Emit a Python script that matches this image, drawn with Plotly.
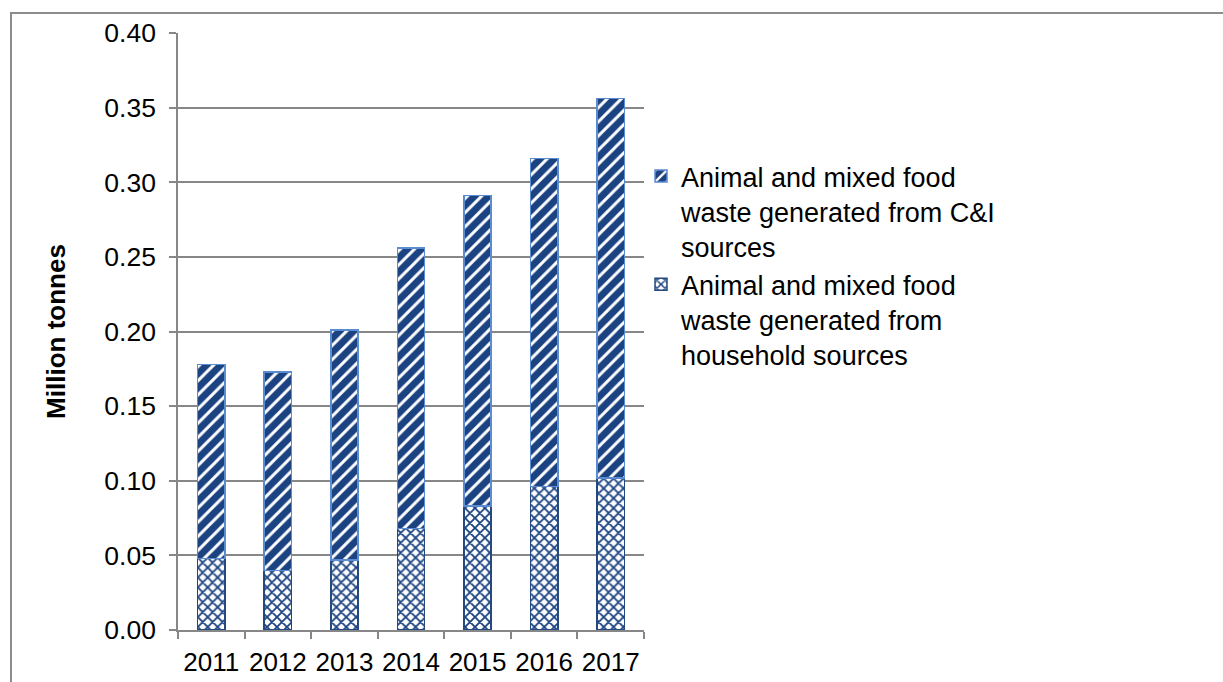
import plotly.graph_objects as go

years = ["2011", "2012", "2013", "2014", "2015", "2016", "2017"]
household = [0.048, 0.040, 0.047, 0.068, 0.083, 0.096, 0.102]
ci = [0.130, 0.133, 0.154, 0.188, 0.208, 0.220, 0.254]
names = [
    "Animal and mixed food<br>waste generated from<br>household sources",
    "Animal and mixed food<br>waste generated from C&I<br>sources",
]
y_ticks = [0.0, 0.05, 0.10, 0.15, 0.20, 0.25, 0.30, 0.35, 0.40]

W, H = 1223, 682
L, R, T, B = 178, 579, 33, 52
pw, ph = W - L - R, H - T - B

NAVY = "#1B4281"
GRID = "#878787"

fig = go.Figure()
fig.add_trace(go.Bar(
    x=years, y=household, name=names[0],
    marker=dict(
        color=NAVY,
        line=dict(color="#24497F", width=1.5),
        pattern=dict(shape="x", fgcolor=NAVY, bgcolor="white", size=7,
                     solidity=0.45, fillmode="replace"),
    ),
))
fig.add_trace(go.Bar(
    x=years, y=ci, name=names[1],
    marker=dict(
        color=NAVY,
        line=dict(color="#5B8BD0", width=1.5),
        pattern=dict(shape="/", fgcolor="white", bgcolor=NAVY, size=10,
                     solidity=0.3, fillmode="replace"),
    ),
))

def px_x(p):
    return (p - L) / pw

def px_y(p):
    return (H - B - p) / ph

fig.add_shape(type="rect", xref="paper", yref="paper",
              x0=px_x(11), x1=px_x(1300), y0=px_y(13), y1=px_y(720),
              line=dict(color="#8C8C8C", width=2), fillcolor="rgba(0,0,0,0)")

fig.update_layout(
    width=W, height=H,
    margin=dict(l=L, r=R, t=T, b=B),
    barmode="stack",
    bargap=0.59,
    paper_bgcolor="white",
    plot_bgcolor="white",
    font=dict(family="Liberation Sans, Arial, sans-serif", color="black", size=26),
    showlegend=True,
    legend=dict(
        x=px_x(641), y=px_y(152), xanchor="left", yanchor="top",
        traceorder="reversed", valign="top",
        font=dict(size=27, color="black"),
        itemwidth=30, bgcolor="rgba(0,0,0,0)",
    ),
    xaxis=dict(
        type="category",
        automargin=False,
        showline=True, linecolor=GRID, linewidth=1.5,
        ticks="outside", tickson="boundaries", ticklen=7, tickcolor=GRID, tickwidth=1.5,
        showgrid=False,
        tickangle=0,
        tickfont=dict(size=26),
        ticklabelstandoff=8,
    ),
    yaxis=dict(
        range=[0, 0.40],
        automargin=False,
        tickvals=y_ticks,
        tickformat=".2f",
        showline=True, linecolor=GRID, linewidth=1.5,
        ticks="outside", ticklen=7, tickcolor=GRID, tickwidth=1.5,
        showgrid=True, gridcolor=GRID, gridwidth=1.5,
        zeroline=False,
        tickfont=dict(size=26.5),
        ticklabelstandoff=8,
        title=dict(text="<b>Million tonnes</b>", font=dict(size=26), standoff=31),
    ),
)

fig.write_html("out.html")
